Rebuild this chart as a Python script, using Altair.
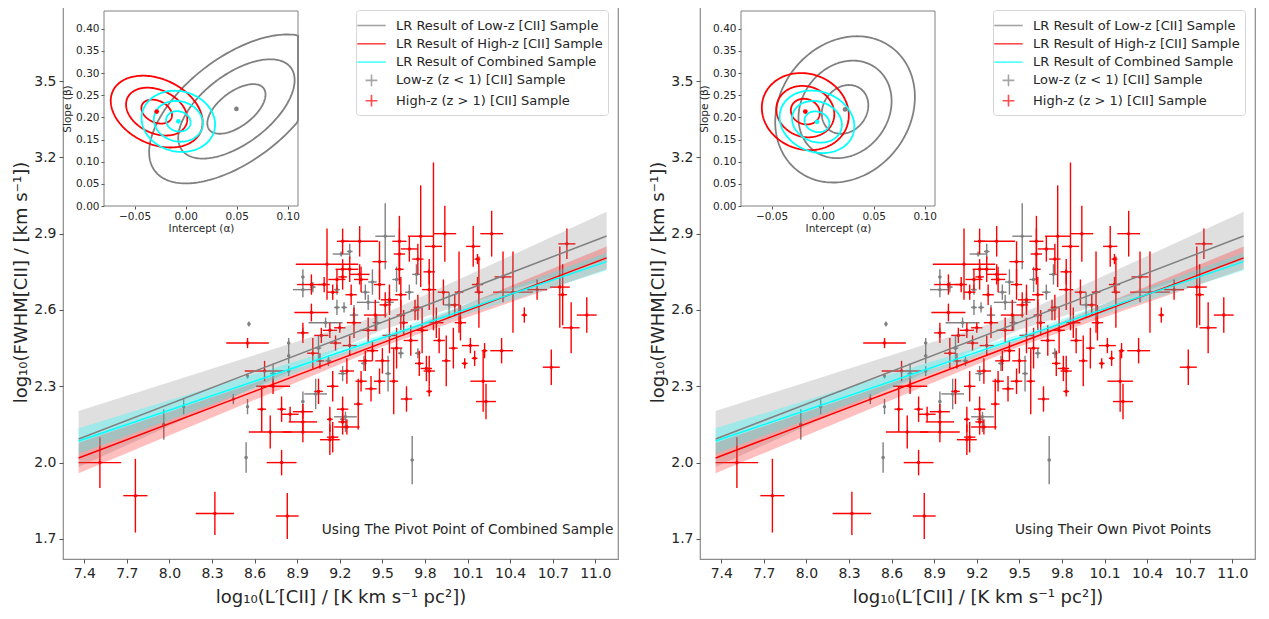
import numpy as np
import pandas as pd
import altair as alt

# ---------------- data ----------------
red_x = [7.51, 7.76, 8.32, 8.83, 8.55, 8.71, 8.79, 8.65, 8.79, 8.85,
         8.94, 8.94, 8.94, 9.13, 9.13, 9.22, 8.73, 8.67, 9.01, 9.06,
         8.94, 9.07, 9.17, 9.13, 9.20, 9.11, 9.22, 9.22, 9.00, 9.09,
         9.15, 9.00, 9.86, 9.94, 10.27, 9.77, 9.62, 9.34, 10.14, 10.17,
         10.80, 10.42, 10.59, 10.75, 10.77, 10.50, 10.94, 10.04, 10.18, 10.17,
         10.01, 9.93, 9.83, 9.83, 9.75, 9.75, 9.69, 9.62, 9.62, 9.63,
         9.48, 9.48, 9.35, 9.34, 9.27, 9.28, 9.22, 9.18, 9.52, 9.63,
         9.73, 10.83, 10.69, 10.34, 10.23, 10.21, 10.22, 10.15, 10.08, 10.12,
         10.00, 9.95, 9.83, 9.83, 9.81, 9.76, 9.67, 9.58, 9.48, 9.42,
         9.33, 9.25, 9.22, 9.15, 9.38, 9.43, 9.27, 9.30, 9.40, 9.45,
         9.55, 9.60, 9.70, 9.78, 9.88, 9.50, 9.35, 9.25, 9.15, 9.05,
         9.65, 9.90, 10.05, 10.35, 9.55]
red_y = [2.00, 1.87, 1.80, 1.79, 2.47, 2.12, 2.00, 2.21, 2.21, 2.19,
         2.20, 2.16, 2.12, 2.17, 2.09, 2.16, 2.30, 2.36, 2.43, 2.40,
         2.51, 2.50, 2.47, 2.52, 2.53, 2.78, 2.87, 2.73, 2.70, 2.70,
         2.67, 2.59, 2.85, 2.90, 2.90, 2.89, 2.87, 2.87, 2.85, 2.80,
         2.86, 2.67, 2.68, 2.69, 2.66, 2.58, 2.58, 2.67, 2.67, 2.70,
         2.62, 2.67, 2.68, 2.75, 2.80, 2.61, 2.84, 2.82, 2.76, 2.66,
         2.79, 2.70, 2.72, 2.74, 2.76, 2.66, 2.76, 2.72, 2.62, 2.58,
         2.60, 2.53, 2.375, 2.44, 2.24, 2.32, 2.44, 2.41, 2.39, 2.46,
         2.45, 2.40, 2.36, 2.28, 2.37, 2.39, 2.25, 2.32, 2.32, 2.29,
         2.23, 2.14, 2.21, 2.10, 2.40, 2.44, 2.46, 2.55, 2.52, 2.58,
         2.50, 2.45, 2.48, 2.52, 2.55, 2.40, 2.32, 2.36, 2.30, 2.28,
         2.55, 2.48, 2.55, 2.73, 2.64]
red_xerr = [0.15, 0.085, 0.135, 0.08, 0.15, 0.15, 0.105, 0.03, 0.03, 0.06,
            0.07, 0.10, 0.14, 0.02, 0.07, 0.03, 0.12, 0.14, 0.04, 0.03,
            0.04, 0.05, 0.04, 0.05, 0.04, 0.22, 0.04, 0.03, 0.10, 0.04,
            0.04, 0.12, 0.06, 0.08, 0.08, 0.09, 0.05, 0.13, 0.05, 0.02,
            0.06, 0.14, 0.07, 0.07, 0.03, 0.02, 0.07, 0.03, 0.03, 0.04,
            0.03, 0.04, 0.05, 0.04, 0.04, 0.03, 0.06, 0.04, 0.03, 0.04,
            0.05, 0.04, 0.05, 0.07, 0.06, 0.04, 0.05, 0.06, 0.04, 0.03,
            0.03, 0.06, 0.06, 0.08, 0.07, 0.09, 0.02, 0.02, 0.02, 0.06,
            0.03, 0.03, 0.04, 0.02, 0.04, 0.03, 0.04, 0.03, 0.04, 0.04,
            0.03, 0.09, 0.04, 0.04, 0.05, 0.04, 0.05, 0.05, 0.06, 0.08,
            0.05, 0.04, 0.05, 0.04, 0.05, 0.05, 0.04, 0.05, 0.04, 0.03,
            0.03, 0.04, 0.04, 0.06, 0.06]
red_yerr = [0.10, 0.145, 0.085, 0.09, 0.02, 0.065, 0.05, 0.09, 0.05, 0.03,
            0.03, 0.04, 0.04, 0.05, 0.06, 0.05, 0.03, 0.04, 0.06, 0.03,
            0.04, 0.03, 0.03, 0.03, 0.02, 0.14, 0.05, 0.05, 0.04, 0.03,
            0.03, 0.035, 0.33, 0.11, 0.09, 0.20, 0.10, 0.06, 0.08, 0.02,
            0.06, 0.16, 0.04, 0.16, 0.12, 0.03, 0.07, 0.16, 0.14, 0.03,
            0.04, 0.05, 0.08, 0.05, 0.06, 0.05, 0.05, 0.10, 0.06, 0.07,
            0.08, 0.06, 0.05, 0.04, 0.05, 0.04, 0.04, 0.04, 0.05, 0.06,
            0.04, 0.10, 0.07, 0.05, 0.07, 0.12, 0.03, 0.03, 0.02, 0.03,
            0.08, 0.10, 0.06, 0.02, 0.05, 0.05, 0.05, 0.13, 0.05, 0.05,
            0.10, 0.03, 0.05, 0.06, 0.04, 0.04, 0.04, 0.06, 0.05, 0.06,
            0.07, 0.08, 0.06, 0.09, 0.06, 0.05, 0.04, 0.05, 0.06, 0.05,
            0.05, 0.05, 0.07, 0.10, 0.06]

gray_x = [7.96, 8.10, 8.45, 8.55, 8.54, 8.55, 8.73, 8.84, 8.84, 8.84,
          8.94, 8.94, 9.03, 9.22, 9.24, 9.71, 8.56, 8.94, 8.94, 9.01,
          9.18, 9.18, 9.23, 9.21, 9.27, 9.52, 9.43, 9.38, 9.69, 9.74,
          9.60, 9.55, 9.97, 9.37, 9.54, 9.22, 9.24, 9.75, 9.63, 9.40,
          9.30, 9.10, 9.46, 9.05, 9.12]
gray_y = [2.15, 2.22, 2.25, 2.22, 2.02, 2.34, 2.35, 2.47, 2.42, 2.36,
          2.51, 2.24, 2.27, 2.17, 2.14, 2.01, 2.545, 2.73, 2.68, 2.69,
          2.68, 2.61, 2.61, 2.82, 2.83, 2.89, 2.71, 2.67, 2.67, 2.74,
          2.72, 2.63, 2.62, 2.39, 2.35, 2.35, 2.18, 2.43, 2.43, 2.63,
          2.58, 2.55, 2.55, 2.45, 2.40]
gray_xerr = [0.01, 0.01, 0.01, 0.01, 0.01, 0.01, 0.02, 0.01, 0.01, 0.01,
             0.01, 0.01, 0.08, 0.02, 0.02, 0.01, 0.01, 0.01, 0.07, 0.02,
             0.02, 0.02, 0.02, 0.06, 0.02, 0.07, 0.03, 0.03, 0.03, 0.03,
             0.03, 0.03, 0.04, 0.02, 0.02, 0.03, 0.08, 0.02, 0.02, 0.08,
             0.03, 0.12, 0.03, 0.02, 0.02]
gray_yerr = [0.06, 0.03, 0.02, 0.03, 0.06, 0.01, 0.04, 0.02, 0.03, 0.02,
             0.02, 0.04, 0.06, 0.02, 0.02, 0.095, 0.01, 0.03, 0.03, 0.02,
             0.02, 0.03, 0.02, 0.01, 0.03, 0.13, 0.05, 0.03, 0.03, 0.04,
             0.05, 0.04, 0.05, 0.03, 0.07, 0.03, 0.02, 0.02, 0.02, 0.03,
             0.04, 0.02, 0.03, 0.05, 0.02]

# regression lines (end points) and confidence bands
line_x = [7.36, 11.08]
gray_line_y = [2.093, 2.891]
red_line_y = [2.018, 2.805]
cyan_line_y = [2.085, 2.790]

band_x = [7.36, 9.5, 11.08]
gray_band_lo = [1.983, 2.522, 2.796]
gray_band_hi = [2.203, 2.582, 2.986]
red_band_lo = [1.958, 2.456, 2.760]
red_band_hi = [2.078, 2.486, 2.850]
cyan_band_lo = [2.035, 2.479, 2.755]
cyan_band_hi = [2.135, 2.503, 2.825]

# inset: best-fit (alpha, beta), sigma_alpha, sigma_beta, correlation
ell_series = ["gray", "red", "cyan"]
left_center_a = [0.0497, -0.0284, -0.0072]
left_center_b = [0.219, 0.213, 0.191]
left_sig_a = [0.0285, 0.0150, 0.0120]
left_sig_b = [0.056, 0.027, 0.023]
left_rho = [0.58, -0.30, -0.10]
right_center_a = [0.0219, -0.0170, -0.0056]
right_center_b = [0.218, 0.213, 0.190]
right_sig_a = [0.0228, 0.0142, 0.0122]
right_sig_b = [0.055, 0.029, 0.0235]
right_rho = [0.17, -0.10, -0.15]
ell_levels = [1, 2, 3]

x_domain = [7.25, 11.16]
y_domain = [1.621, 3.799]
x_ticks = [7.4, 7.7, 8.0, 8.3, 8.6, 8.9, 9.2, 9.5, 9.8, 10.1, 10.4, 10.7, 11.0]
y_ticks = [1.7, 2.0, 2.3, 2.6, 2.9, 3.2, 3.5]
inset_a_domain = [-0.08, 0.11]
inset_b_domain = [0.0, 0.44]
inset_a_ticks = [-0.05, 0.0, 0.05, 0.10]
inset_b_ticks = [0.0, 0.05, 0.10, 0.15, 0.20, 0.25, 0.30, 0.35, 0.40]

legend_labels = ["LR Result of Low-z [CII] Sample",
                 "LR Result of High-z [CII] Sample",
                 "LR Result of Combined Sample",
                 "Low-z (z < 1) [CII] Sample",
                 "High-z (z > 1) [CII] Sample"]

texts = ["Using The Pivot Point of Combined Sample", "Using Their Own Pivot Points"]
text_x = [10.10, 10.16]
text_y = [1.735, 1.735]

# ---------------- styling ----------------
GRAY, RED, CYAN = "#808080", "#ff0000", "#00ffff"
COLORS = {"gray": GRAY, "red": RED, "cyan": CYAN}
FONT = "DejaVu Sans"
TXT = "#262626"
W, H = 555, 554
INSET_X = [41, 235]
INSET_Y = [201, 6]


def pts(xs, ys, xe, ye):
    d = pd.DataFrame({"x": xs, "y": ys, "xe": xe, "ye": ye})
    d["x_lo"] = d["x"] - d["xe"]
    d["x_hi"] = d["x"] + d["xe"]
    d["y_lo"] = d["y"] - d["ye"]
    d["y_hi"] = d["y"] + d["ye"]
    return d


red_df = pts(red_x, red_y, red_xerr, red_yerr)
gray_df = pts(gray_x, gray_y, gray_xerr, gray_yerr)

line_df = pd.concat([
    pd.DataFrame({"x": line_x, "y": ys, "series": s, "col": COLORS[s]})
    for s, ys in [("gray", gray_line_y), ("red", red_line_y), ("cyan", cyan_line_y)]
])
band_df = pd.concat([
    pd.DataFrame({"x": band_x, "lo": lo, "hi": hi, "series": s, "col": COLORS[s], "op": op})
    for s, lo, hi, op in [("gray", gray_band_lo, gray_band_hi, 0.25),
                          ("red", red_band_lo, red_band_hi, 0.25),
                          ("cyan", cyan_band_lo, cyan_band_hi, 0.28)]
])


def ellipse_df(ca, cb, sa, sb, rho):
    t = np.linspace(0, 2 * np.pi, 181)
    rows = []
    for i, s in enumerate(ell_series):
        for k in ell_levels:
            a = ca[i] + k * sa[i] * np.cos(t)
            b = cb[i] + k * sb[i] * (rho[i] * np.cos(t) + np.sqrt(1 - rho[i] ** 2) * np.sin(t))
            rows.append(pd.DataFrame({"a": a, "b": b, "idx": np.arange(len(t)),
                                      "key": f"{s}{k}", "col": COLORS[s]}))
    ell = pd.concat(rows)
    cen = pd.DataFrame({"a": ca, "b": cb, "col": [COLORS[s] for s in ell_series]})
    return ell, cen


x_scale = alt.Scale(domain=x_domain, nice=False, zero=False)
y_scale = alt.Scale(domain=y_domain, nice=False, zero=False)
x_axis = alt.Axis(orient="bottom", values=x_ticks, format=".1f",
                  title="log₁₀(L′[CII] / [K km s⁻¹ pc²])",
                  labelFontSize=14, titleFontSize=18, tickSize=4, labelPadding=3,
                  titlePadding=8, domain=False, grid=False, labelFlush=False,
                  labelOverlap=False, titleFontWeight="normal")
y_axis = alt.Axis(orient="left", values=y_ticks, format=".1f",
                  title="log₁₀(FWHM[CII] / [km s⁻¹])",
                  labelFontSize=14, titleFontSize=18, tickSize=4, labelPadding=3,
                  titlePadding=3, domain=False, grid=False, labelFlush=False,
                  labelOverlap=False, titleFontWeight="normal")

ia_scale = alt.Scale(domain=inset_a_domain, range=INSET_X, clamp=True, nice=False, zero=False)
ib_scale = alt.Scale(domain=inset_b_domain, range=INSET_Y, clamp=True, nice=False, zero=False)
ia_axis = alt.Axis(orient="bottom", offset=-(H - INSET_Y[0]), values=inset_a_ticks, format=".2f",
                   title="Intercept (α)", labelFontSize=10.5, titleFontSize=10.5, tickSize=3,
                   labelPadding=2, titlePadding=2, domain=False, grid=False, labelFlush=False,
                   labelOverlap=False, titleFontWeight="normal")
ib_axis = alt.Axis(orient="left", offset=-INSET_X[0], values=inset_b_ticks, format=".2f",
                   title="Slope (β)", labelFontSize=10.5, titleFontSize=10.5, tickSize=3,
                   labelPadding=2, titlePadding=3, domain=False, grid=False, labelFlush=False,
                   labelOverlap=False, titleFontWeight="normal")


def X(f):
    return alt.X(f"{f}:Q", scale=x_scale, axis=x_axis)


def Y(f):
    return alt.Y(f"{f}:Q", scale=y_scale, axis=y_axis)


def errorbars(df, color):
    h = alt.Chart(df).mark_rule(color=color, strokeWidth=1.4).encode(
        x=X("x_lo"), x2="x_hi:Q", y=Y("y"))
    v = alt.Chart(df).mark_rule(color=color, strokeWidth=1.4).encode(
        x=X("x"), y=Y("y_lo"), y2="y_hi:Q")
    p = alt.Chart(df).mark_circle(color=color, size=12, opacity=1).encode(
        x=X("x"), y=Y("y"))
    return [h, v, p]


leg = alt.Legend(title=None, orient="none", legendX=293, legendY=5,
                 symbolSize=361, symbolStrokeWidth=1.6, labelFontSize=13,
                 labelOffset=14, rowPadding=0.3, padding=5, fillColor="white",
                 strokeColor="#d6d6d6", cornerRadius=3, labelColor=TXT,
                 labelFont=FONT, labelLimit=400)
leg_shapes = ["M-1.5,0H1.5", "M-1.5,0H1.5", "M-1.5,0H1.5",
              "M-0.62,0H0.62M0,-0.62V0.62", "M-0.62,0H0.62M0,-0.62V0.62"]
leg_colors = [GRAY, RED, CYAN, GRAY, RED]


def panel(i, ca, cb, sa, sb, rho):
    bands = alt.Chart(band_df).mark_area().encode(
        x=X("x"), y=Y("lo"), y2="hi:Q",
        fill=alt.Fill("col:N", scale=None), opacity=alt.Opacity("op:Q", scale=None),
        detail="series:N")
    lines = alt.Chart(line_df).mark_line(strokeWidth=1.5).encode(
        x=X("x"), y=Y("y"), stroke=alt.Stroke("col:N", scale=None), detail="series:N")
    tdf = pd.DataFrame({"x": [text_x[i]], "y": [text_y[i]], "t": [texts[i]]})
    text = alt.Chart(tdf).mark_text(font=FONT, fontSize=13.7, color=TXT, align="center",
                                    baseline="middle").encode(x=X("x"), y=Y("y"), text="t:N")
    ldf = pd.DataFrame({"label": legend_labels})
    legend_layer = alt.Chart(ldf).mark_point(filled=False, clip=True, strokeWidth=1.6).encode(
        x=alt.value(-300), y=alt.value(-300),
        color=alt.Color("label:N", scale=alt.Scale(domain=legend_labels, range=leg_colors), legend=leg),
        shape=alt.Shape("label:N", scale=alt.Scale(domain=legend_labels, range=leg_shapes), legend=leg))
    main = alt.layer(*errorbars(gray_df, GRAY), *errorbars(red_df, RED),
                     bands, lines, text, legend_layer)

    ell, cen = ellipse_df(ca, cb, sa, sb, rho)
    IA = alt.X("a:Q", scale=ia_scale, axis=ia_axis)
    IB = alt.Y("b:Q", scale=ib_scale, axis=ib_axis)
    fdf = pd.DataFrame({"a": [inset_a_domain[0]], "a2": [inset_a_domain[1]],
                        "b": [inset_b_domain[0]], "b2": [inset_b_domain[1]]})
    frame = alt.Chart(fdf).mark_rect(fillOpacity=0, stroke="#808080", strokeWidth=1).encode(
        x=IA, x2="a2:Q", y=IB, y2="b2:Q")
    ellipses = alt.Chart(ell).mark_line(strokeWidth=1.8).encode(
        x=IA, y=IB, stroke=alt.Stroke("col:N", scale=None), detail="key:N", order="idx:Q")
    centers = alt.Chart(cen).mark_circle(size=22, opacity=1).encode(
        x=IA, y=IB, fill=alt.Fill("col:N", scale=None))
    inset = alt.layer(ellipses, centers, frame)

    return alt.layer(main, inset).resolve_scale(x="independent", y="independent").properties(
        width=W, height=H)


p1 = panel(0, left_center_a, left_center_b, left_sig_a, left_sig_b, left_rho)
p2 = panel(1, right_center_a, right_center_b, right_sig_a, right_sig_b, right_rho)

chart = alt.hconcat(p1, p2, spacing=30).resolve_scale(
    color="independent", shape="independent").properties(
    padding={"left": 4, "right": 0, "top": -4, "bottom": 0}
).configure_view(stroke="#8c8c8c", strokeWidth=1.2).configure_axis(
    labelFont=FONT, titleFont=FONT, labelColor=TXT, titleColor=TXT, tickColor="#555555"
).configure_legend(labelFont=FONT)

chart.save("out.html", embed_options={"renderer": "svg", "actions": False})
